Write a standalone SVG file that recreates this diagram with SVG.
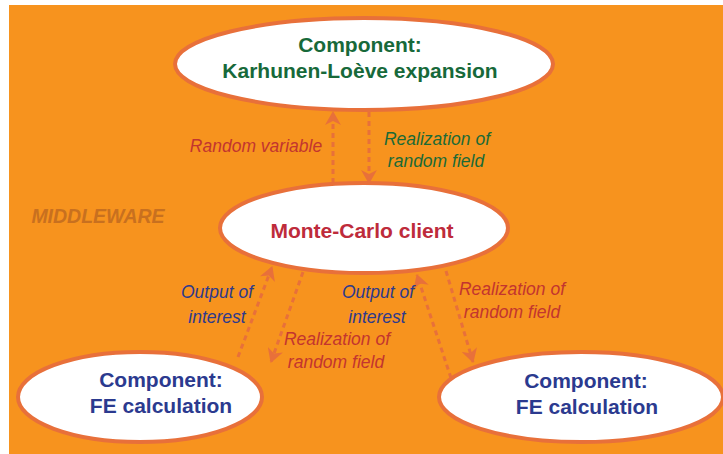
<svg xmlns="http://www.w3.org/2000/svg" width="723" height="454" viewBox="0 0 723 454">
  <style>
    .node { fill: #ffffff; stroke: #e8703a; stroke-width: 4; }
    .title { font-family: "Liberation Sans", Arial, sans-serif; font-weight: bold; font-size: 21px; text-anchor: middle; }
    .green { fill: #17693a; }
    .crimson { fill: #be2b3b; }
    .blue { fill: #2b3a8f; }
    .lbl { font-family: "Liberation Sans", Arial, sans-serif; font-style: italic; font-size: 17.5px; text-anchor: middle; }
    .lbl-red { fill: #c3352f; }
    .lbl-green { fill: #1b6a36; }
    .lbl-blue { fill: #2e3a8c; }
    .link { fill: none; stroke: #e8703a; stroke-width: 3; stroke-dasharray: 5 4; }
  </style>
  <defs>
    <marker id="head" markerUnits="userSpaceOnUse" markerWidth="16" markerHeight="16" refX="13" refY="8" orient="auto">
      <path d="M0,0 L14,8 L0,16 L4,8 z" fill="#e8703a"/>
    </marker>
  </defs>

  <!-- background panel -->
  <rect x="9" y="5" width="714" height="449" fill="#f7931e"/>
  <text x="98" y="223" font-family="Liberation Sans, Arial, sans-serif" font-weight="bold" font-style="italic" font-size="19.5" fill="#c8701f" text-anchor="middle">MIDDLEWARE</text>

  <!-- nodes -->
  <g id="kl-expansion">
    <ellipse class="node" cx="364" cy="64" rx="189" ry="46"/>
    <text class="title green" x="360" y="52">Component:</text>
    <text class="title green" x="360" y="78">Karhunen-Loève expansion</text>
  </g>
  <g id="monte-carlo">
    <ellipse class="node" cx="364" cy="228" rx="144" ry="45"/>
    <text class="title crimson" x="362" y="238">Monte-Carlo client</text>
  </g>
  <g id="fe-left">
    <ellipse class="node" cx="140" cy="397" rx="122" ry="45"/>
    <text class="title blue" x="161" y="387">Component:</text>
    <text class="title blue" x="161" y="413">FE calculation</text>
  </g>
  <g id="fe-right">
    <ellipse class="node" cx="581" cy="397" rx="142" ry="45"/>
    <text class="title blue" x="586" y="388">Component:</text>
    <text class="title blue" x="587" y="414">FE calculation</text>
  </g>

  <!-- connectors -->
  <g id="connectors">
    <line class="link" x1="333" y1="183" x2="333" y2="112" marker-end="url(#head)"/>
    <line class="link" x1="369" y1="112" x2="369" y2="183" marker-end="url(#head)"/>
    <line class="link" x1="238" y1="357" x2="272" y2="267" marker-end="url(#head)"/>
    <line class="link" x1="303" y1="272" x2="271" y2="362" marker-end="url(#head)"/>
    <line class="link" x1="451" y1="378" x2="417" y2="275" marker-end="url(#head)"/>
    <line class="link" x1="446" y1="271" x2="473" y2="362" marker-end="url(#head)"/>
  </g>

  <!-- connector labels -->
  <g id="labels">
    <text class="lbl lbl-red" x="256" y="152">Random variable</text>
    <text class="lbl lbl-green" x="437" y="145">Realization of</text>
    <text class="lbl lbl-green" x="436" y="167">random field</text>
    <text class="lbl lbl-blue" x="217" y="298">Output of</text>
    <text class="lbl lbl-blue" x="217" y="323">interest</text>
    <text class="lbl lbl-red" x="337" y="345">Realization of</text>
    <text class="lbl lbl-red" x="336" y="368">random field</text>
    <text class="lbl lbl-blue" x="378" y="298">Output of</text>
    <text class="lbl lbl-blue" x="377" y="323">interest</text>
    <text class="lbl lbl-red" x="512" y="295">Realization of</text>
    <text class="lbl lbl-red" x="512" y="318">random field</text>
  </g>
</svg>
